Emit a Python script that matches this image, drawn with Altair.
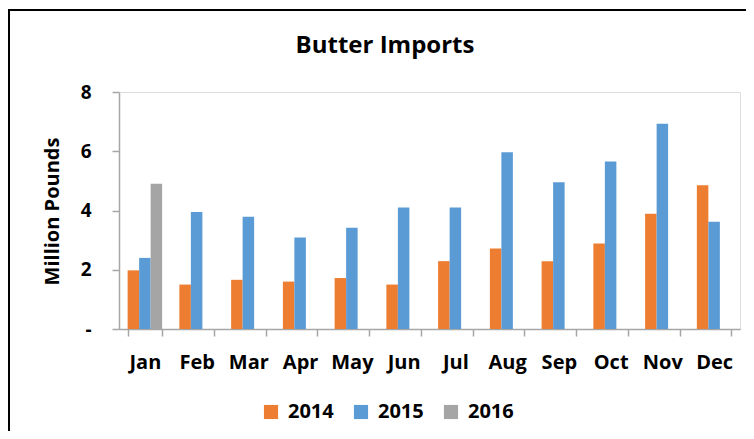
import altair as alt
import pandas as pd

title_text = "Butter Imports"
y_title = "Million Pounds"
months = ["Jan", "Feb", "Mar", "Apr", "May", "Jun", "Jul", "Aug", "Sep", "Oct", "Nov", "Dec"]
imports_2014 = [1.98, 1.50, 1.66, 1.60, 1.72, 1.50, 2.29, 2.72, 2.29, 2.89, 3.89, 4.85]
imports_2015 = [2.40, 3.95, 3.79, 3.09, 3.42, 4.10, 4.10, 5.97, 4.95, 5.65, 6.93, 3.62]
imports_2016 = [4.90]  # only January available
years = ["2014", "2015", "2016"]
colors = ["#ED7D31", "#5B9BD5", "#A5A5A5"]

rows = []
for m, v in zip(months, imports_2014):
    rows.append({"Month": m, "Year": "2014", "Value": v})
for m, v in zip(months, imports_2015):
    rows.append({"Month": m, "Year": "2015", "Value": v})
for m, v in zip(months[:len(imports_2016)], imports_2016):
    rows.append({"Month": m, "Year": "2016", "Value": v})
df = pd.DataFrame(rows)

FONT = "Open Sans"
AXIS_COLOR = "#A6A6A6"
W, H = 621, 237
PAD = {"left": 111, "top": 84, "right": 6, "bottom": 102}

bars = alt.Chart(df).mark_bar().encode(
    x=alt.X("Month:N", sort=months,
            scale=alt.Scale(paddingInner=0.333, paddingOuter=0.1667),
            axis=alt.Axis(title=None, labelAngle=0, labelFont=FONT, labelFontSize=20,
                          labelFontWeight="bold", labelColor="#000000", labelPadding=16,
                          tickBand="extent", tickSize=7, tickColor=AXIS_COLOR,
                          domainColor=AXIS_COLOR, domainWidth=1.5, tickWidth=1.5, grid=False)),
    xOffset=alt.XOffset("Year:N", scale=alt.Scale(domain=years)),
    y=alt.Y("Value:Q", scale=alt.Scale(domain=[0, 8], nice=False),
            axis=alt.Axis(values=[0, 2, 4, 6, 8], title=y_title,
                          labelExpr="datum.value == 0 ? '-' : datum.label",
                          labelFont=FONT, labelFontSize=19, labelFontWeight="bold",
                          labelColor="#000000", labelPadding=21, tickSize=7,
                          tickColor=AXIS_COLOR, domainColor=AXIS_COLOR, domainWidth=1.5,
                          tickWidth=1.5, grid=False,
                          titleFont=FONT, titleFontSize=20, titleFontWeight="bold",
                          titleColor="#000000", titleAngle=-90, titleX=-61, titleY=119,
                          titleBaseline="alphabetic", titleAlign="center")),
    color=alt.Color("Year:N", scale=alt.Scale(domain=years, range=colors),
                    legend=alt.Legend(title=None, orient="none", direction="horizontal",
                                      legendX=142, legendY=310, symbolType="square",
                                      symbolSize=200, symbolStrokeWidth=0,
                                      labelFont=FONT, labelFontSize=20, labelFontWeight="bold",
                                      labelColor="#000000", labelOffset=7, columnPadding=17)),
)

title_mark = alt.Chart(pd.DataFrame({"t": [title_text]})).mark_text(
    font=FONT, fontSize=24, fontWeight="bold", color="#000000",
    align="center", baseline="alphabetic",
).encode(text="t:N", x=alt.value(266), y=alt.value(-39))

frame_left = alt.Chart(df).mark_rule(color="#000000", strokeWidth=2).encode(
    x=alt.value(-110), y=alt.value(-82), y2=alt.value(H + PAD["bottom"] + 5))
frame_top = alt.Chart(df).mark_rule(color="#000000", strokeWidth=2).encode(
    x=alt.value(-111), x2=alt.value(W + PAD["right"] + 5), y=alt.value(-82))

chart = alt.layer(bars, title_mark, frame_left, frame_top).properties(
    width=W, height=H,
    autosize=alt.AutoSizeParams(type="none"),
    padding=PAD,
).configure_view(stroke=None).configure(background="#ffffff")

chart.save("out.html", embed_options={"renderer": "svg", "actions": False})
